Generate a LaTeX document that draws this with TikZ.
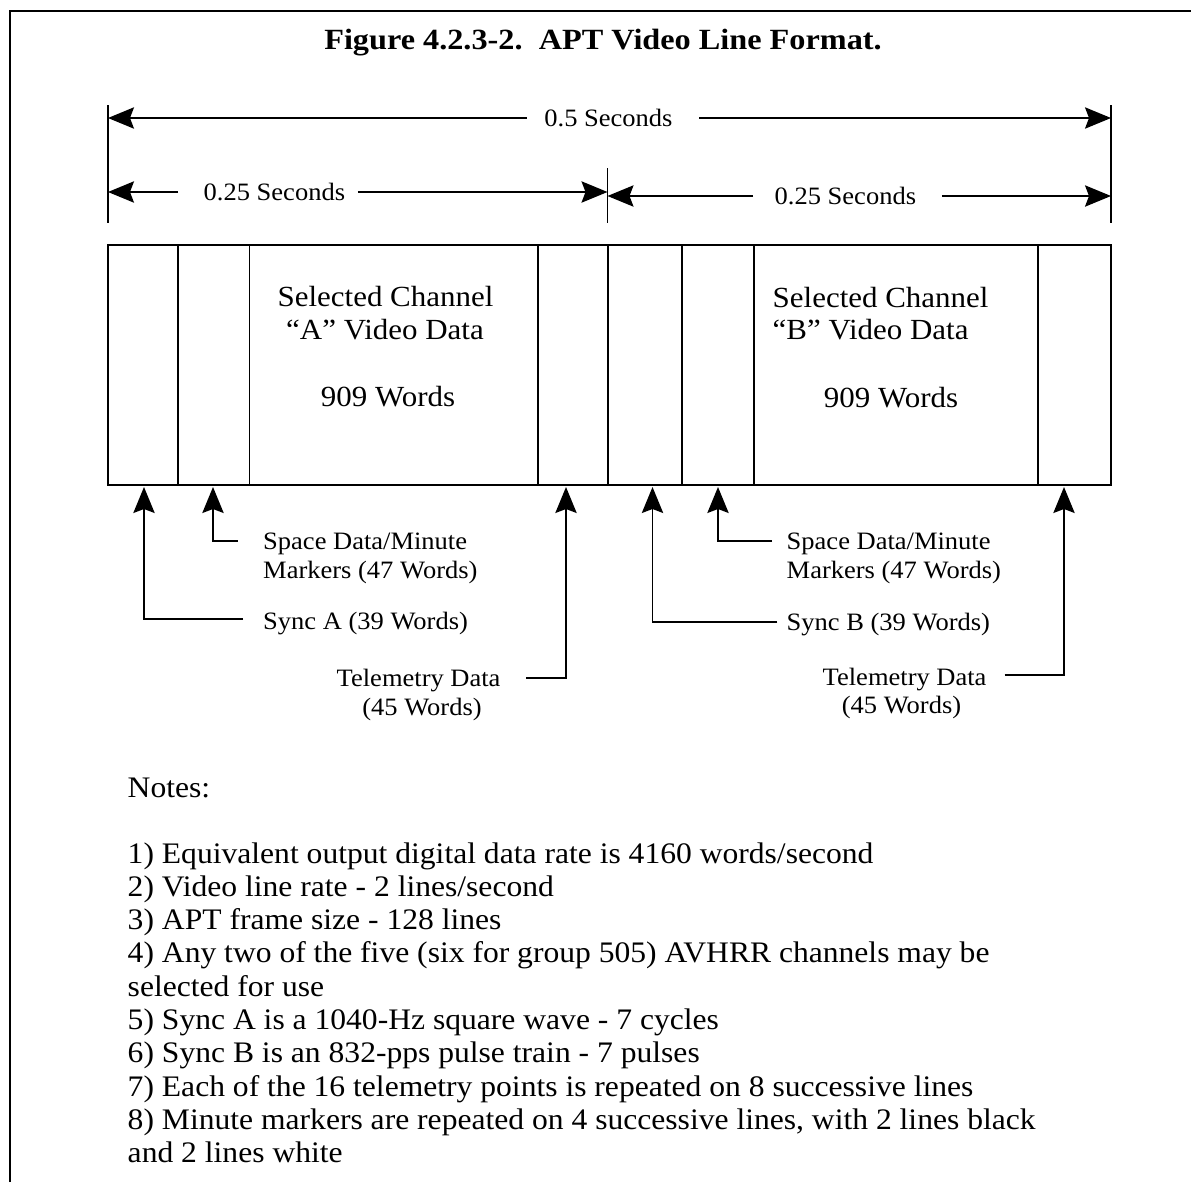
\documentclass[tikz,border=0pt]{standalone}
\usepackage{fontspec}
\setmainfont{Liberation Serif}[FakeStretch=1.06]
\newfontfamily\titlefont{Liberation Serif}[FakeStretch=1.1]
\usetikzlibrary{arrows.meta}
\begin{document}
\begin{tikzpicture}[x=0.75pt,y=-0.75pt,
  every path/.style={line width=1.1pt},
  tip/.style={-{Stealth[length=19.5pt,width=16pt,inset=3pt]}},
  lbl/.style={font=\fontsize{18.75}{22}\selectfont, inner sep=0pt, text height=12.4pt, text depth=0pt},
  boxtxt/.style={font=\fontsize{21.9}{26}\selectfont, inner sep=0pt, text height=14.4pt, text depth=0pt},
  note/.style={font=\fontsize{22.35}{25}\selectfont, inner sep=0pt, anchor=base west},
  ttl/.style={font=\titlefont\fontsize{22}{26}\selectfont\bfseries, inner sep=0pt, text height=14.5pt, text depth=0pt}
]
\useasboundingbox (0,0) rectangle (1191,1182);
% frame
\draw[line width=1.5pt] (9.5,1182) -- (9.5,11) -- (1191,11);
% title
\node[ttl] (title) at (603,40) {Figure 4.2.3-2.\ \ APT Video Line Format.};

% dimension ticks
\coordinate (tL) at (108,117);
\coordinate (tM) at (607.5,192);
\coordinate (tR) at (1111,117);
\draw (108,105) -- (108,223);
\draw (607.5,168) -- (607.5,223);
\draw (1111,105) -- (1111,223);

% 0.5 seconds
\node[lbl, anchor=center] (half) at (608.5,118) {0.5 Seconds};
\draw[tip] ([xshift=-12.75pt]half.west) -- (half.west -| tL);
\draw[tip] ([xshift=19.5pt]half.east) -- (half.east -| tR);

% 0.25 seconds (left)
\node[lbl, anchor=west] (qA) at (203,192) {0.25 Seconds};
\draw[tip] ([xshift=-18.75pt]qA.west) -- (qA.west -| tL);
\draw[tip] ([xshift=9pt]qA.east) -- (qA.east -| tM);
% 0.25 seconds (right)
\node[lbl, anchor=west] (qB) at (774,196) {0.25 Seconds};
\draw[tip] ([xshift=-15.75pt]qB.west) -- (qB.west -| tM);
\draw[tip] ([xshift=18.75pt]qB.east) -- (qB.east -| tR);

% the line box
\draw[line width=1.3pt] (108,245) rectangle (1111,485);
\foreach \xx in {178,249.5,538,608,682,754,1038}
  \draw[line width=1.3pt] (\xx,245) -- (\xx,485);

% box texts
\node[boxtxt] (selA) at (385.5,297) {Selected Channel};
\node[boxtxt] (vidA) at (385,330) {“A” Video Data};
\node[boxtxt] (wA) at (388,397) {909 Words};
\node[boxtxt, anchor=west] (selB) at (772,298) {Selected Channel};
\node[boxtxt, anchor=west] (vidB) at (772,330) {“B” Video Data};
\node[boxtxt] (wB) at (891,398) {909 Words};

% arrow targets at box bottom
\coordinate (pSyncA) at (144,487);
\coordinate (pSpA) at (213,487);
\coordinate (pTelA) at (566,487);
\coordinate (pSyncB) at (652.5,487);
\coordinate (pSpB) at (718,487);
\coordinate (pTelB) at (1064,487);

% labels, group A
\node[lbl, anchor=west] (spA) at (262.5,541) {Space Data/Minute};
\node[lbl, anchor=west] (spA2) at (262.5,570) {Markers (47 Words)};
\node[lbl, anchor=west] (syA) at (262.5,621) {Sync A (39 Words)};
\node[lbl, anchor=west] (teA) at (336,678) {Telemetry Data};
\node[lbl] (teA2) at (422,707) {(45 Words)};
\draw[tip] ([xshift=-18.4pt]spA.west) -| (pSpA);
\draw[tip] ([xshift=-14.6pt,yshift=1.5pt]syA.west) -| (pSyncA);
\draw[tip] ([xshift=18.75pt]teA.east) -| (pTelA);

% labels, group B
\node[lbl, anchor=west] (spB) at (786,541) {Space Data/Minute};
\node[lbl, anchor=west] (spB2) at (786,570) {Markers (47 Words)};
\node[lbl, anchor=west] (syB) at (786,622) {Sync B (39 Words)};
\node[lbl, anchor=west] (teB) at (822,677) {Telemetry Data};
\node[lbl] (teB2) at (901.5,705) {(45 Words)};
\draw[tip] ([xshift=-10.5pt]spB.west) -| (pSpB);
\draw[tip] ([xshift=-6.4pt]syB.west) -| (pSyncB);
\draw[tip] ([xshift=13pt,yshift=1.5pt]teB.east) -| (pTelB);

% notes
\node[note] (notes) at (127,797) {Notes:};
\foreach [count=\i] \t in {
  {1) Equivalent output digital data rate is 4160 words/second},
  {2) Video line rate - 2 lines/second},
  {3) APT frame size - 128 lines},
  {4) Any two of the five (six for group 505) AVHRR channels may be},
  {selected for use},
  {5) Sync A is a 1040-Hz square wave - 7 cycles},
  {6) Sync B is an 832-pps pulse train - 7 pulses},
  {7) Each of the 16 telemetry points is repeated on 8 successive lines},
  {8) Minute markers are repeated on 4 successive lines, with 2 lines black},
  {and 2 lines white}}
  \node[note] (n\i) at (127,{863+33.3*(\i-1)}) {\t};
\end{tikzpicture}
\end{document}
